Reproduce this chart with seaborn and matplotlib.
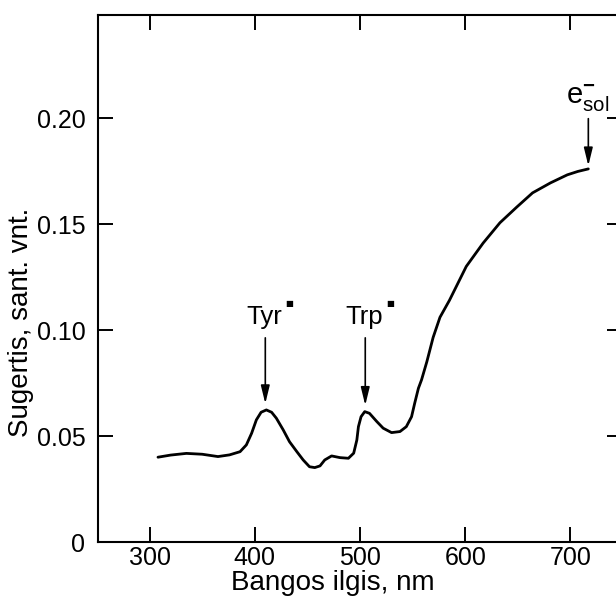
import matplotlib
matplotlib.use("Agg")
import matplotlib.pyplot as plt
import seaborn as sns
import pandas as pd

# Data
wavelength = [308, 320, 335, 350, 365, 376, 386, 392, 397, 401.5, 406, 411, 416,
              420.5, 427, 433, 440, 446, 452, 457, 462, 466.5, 473, 481, 489, 494,
              497, 498.5, 501, 504.5, 509, 516, 522, 530, 538, 544, 549, 552, 555.5,
              558.5, 563.5, 569.5, 576, 585, 601, 617, 633, 649, 664, 681, 697, 707,
              717]
absorbance = [0.0400, 0.0410, 0.0418, 0.0414, 0.0403, 0.0411, 0.0426, 0.0458,
              0.0513, 0.0576, 0.0612, 0.0623, 0.0612, 0.0584, 0.0529, 0.0473, 0.0426,
              0.0387, 0.0355, 0.0351, 0.0359, 0.0387, 0.0406, 0.0398, 0.0395, 0.0419,
              0.0481, 0.0544, 0.0591, 0.0615, 0.0607, 0.0568, 0.0537, 0.0516, 0.0521,
              0.0544, 0.0591, 0.0655, 0.0725, 0.0765, 0.0850, 0.0965, 0.1060, 0.1140,
              0.1300, 0.1410, 0.1506, 0.1580, 0.1647, 0.1694, 0.1732, 0.1748, 0.1760]

x_ticks = [300, 400, 500, 600, 700]
y_ticks = [0, 0.05, 0.10, 0.15, 0.20]
y_tick_labels = ["0", "0.05", "0.10", "0.15", "0.20"]

peak_names = ["Tyr", "Trp"]
peak_x = [410, 505]
peak_y = [0.0623, 0.0615]
esol_x = 717
esol_y = 0.1760

sns.set_theme(style="ticks")
plt.rcParams["font.family"] = ["Liberation Sans", "DejaVu Sans"]
plt.rcParams["mathtext.fontset"] = "custom"
plt.rcParams["mathtext.rm"] = "Liberation Sans"
plt.rcParams["mathtext.it"] = "Liberation Sans"
plt.rcParams["mathtext.bf"] = "Liberation Sans:bold"
plt.rcParams["text.color"] = "black"
plt.rcParams["axes.labelcolor"] = "black"

fig = plt.figure(figsize=(6.16, 5.99), dpi=100)
ax = fig.add_axes([98 / 616, 1 - 542 / 599, (622 - 98) / 616, (542 - 15) / 599])

df = pd.DataFrame({"wl": wavelength, "a": absorbance})
sns.lineplot(data=df, x="wl", y="a", ax=ax, color="black", lw=2.0, sort=False)

ax.set_xlim(251, 749)
ax.set_ylim(0, 0.2486)
ax.set_xticks(x_ticks)
ax.set_yticks(y_ticks)
ax.set_yticklabels(y_tick_labels)
ax.tick_params(direction="in", length=11, width=1.4, top=True, right=True,
               labelsize=18, colors="black")
ax.tick_params(axis="x", pad=3)
ax.tick_params(axis="y", pad=9)
for s in ax.spines.values():
    s.set_linewidth(1.5)
    s.set_color("black")

ax.set_xlabel("Bangos ilgis, nm", fontsize=20)
ax.set_ylabel("Sugertis, sant. vnt.", fontsize=20)
ax.xaxis.set_label_coords((333 - 98) / 524, -(570 - 542) / 527)
ax.yaxis.set_label_coords((34 - 98) / 524, (542 - 322) / 527)

arrow = dict(arrowstyle="-|>,head_length=0.9,head_width=0.22", color="black",
             lw=1.2, shrinkA=0, shrinkB=0)
for name, px, py in zip(peak_names, peak_x, peak_y):
    ax.annotate("", xy=(px, py + 0.003), xytext=(px, 0.0963), arrowprops=arrow)
    t = ax.text(px - 1, 0.1005, name, ha="center", va="bottom", fontsize=18.5)
    ax.annotate("\u25A0", xy=(1, 1), xycoords=t, xytext=(5, 1),
                textcoords="offset points", ha="center", va="center",
                fontsize=6, family="DejaVu Sans")

ax.annotate("", xy=(esol_x, esol_y + 0.0015), xytext=(esol_x, 0.1997),
            arrowprops=arrow)
ax.text(esol_x - 1, 0.2020, r"e$^{\mathbf{-}}_{sol}$", ha="center", va="bottom",
        fontsize=21)

fig.savefig("out.png", dpi=100)
